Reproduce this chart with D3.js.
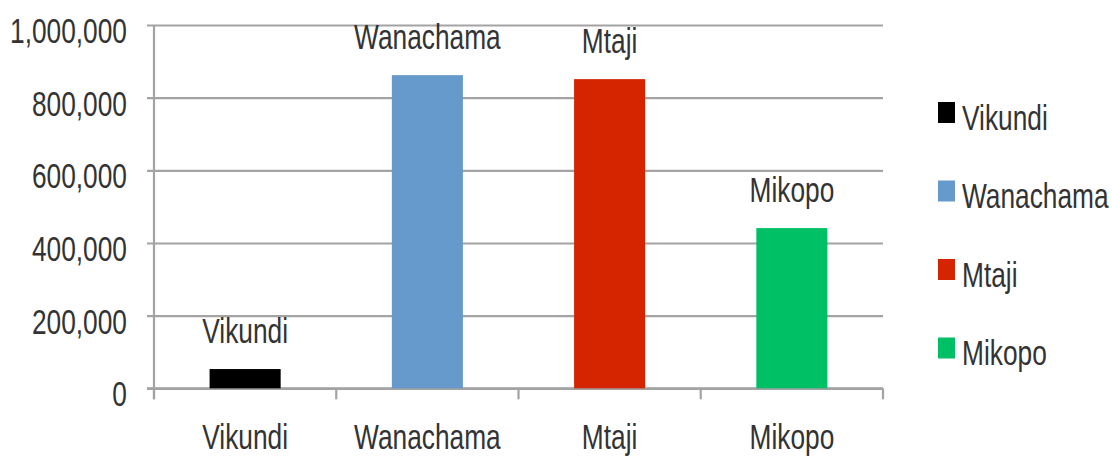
<!DOCTYPE html>
<html>
<head>
<meta charset="utf-8">
<script src="https://cdn.jsdelivr.net/npm/d3@7/dist/d3.min.js"></script>
<style>
  html, body { margin: 0; padding: 0; background: #fff; }
  svg { display: block; }
  text { font-family: "Liberation Sans", Arial, sans-serif; font-size: 26.3px; fill: #333; }
</style>
</head>
<body>
<svg id="chart" width="1112" height="457"></svg>
<script>
const categories = ["Vikundi", "Wanachama", "Mtaji", "Mikopo"];
const values = [53000, 862000, 851000, 441000];
const colors = ["#000000", "#6699cc", "#d42400", "#00c066"];
const yTicks = [0, 200000, 400000, 600000, 800000, 1000000];

(function () {
const SY = 1.33; // vertical text stretch
const plotLeft = 154, plotRight = 883, plotTop = 25, plotBottom = 388.3;
const svg = d3.select("#chart");

const x = d3.scaleBand().domain(categories).range([plotLeft, plotRight]).paddingInner(0.61).paddingOuter(0.305);
const xEdges = d3.scaleBand().domain(categories).range([plotLeft, plotRight]).padding(0);
const y = d3.scaleLinear().domain([0, 1000000]).range([plotBottom, plotTop]);
const fmt = d3.format(",");
const gridColor = "#a3a3a3";
const fontFam = '"Liberation Sans", Arial, sans-serif';

// gridlines + y labels
const gy = svg.append("g").attr("transform", `translate(${plotRight},0)`)
  .call(d3.axisLeft(y).tickValues(yTicks).tickSize(plotRight - 147).tickPadding(20).tickFormat(fmt));
gy.select(".domain").remove();
gy.selectAll(".tick line").attr("stroke", gridColor).attr("stroke-width", 2.2);
gy.selectAll(".tick text")
  .attr("x", null).attr("dy", null)
  .attr("transform", `translate(${-(plotRight - 147) - 20},17.5) scale(1,${SY})`)
  .attr("fill", "#333").attr("font-size", "26.3px").attr("font-family", fontFam);

// bottom axis labels
const gx = svg.append("g").attr("transform", `translate(0,${plotBottom})`)
  .call(d3.axisBottom(xEdges).tickSize(0));
gx.select(".domain").remove();
gx.selectAll(".tick text")
  .attr("y", null).attr("dy", null)
  .attr("transform", `translate(0,60.5) scale(1,${SY})`)
  .attr("fill", "#333").attr("font-size", "26.3px").attr("font-family", fontFam);

// x axis line and ticks at band edges
svg.append("line").attr("x1", 147).attr("x2", plotRight).attr("y1", y(0)).attr("y2", y(0))
  .attr("stroke", gridColor).attr("stroke-width", 2.2);
const edges = categories.map(c => xEdges(c)).concat([plotRight]);
svg.selectAll("line.xt").data(edges).join("line").attr("class", "xt")
  .attr("x1", d => d).attr("x2", d => d).attr("y1", y(0)).attr("y2", y(0) + 11)
  .attr("stroke", gridColor).attr("stroke-width", 2.2);
// y axis line
svg.append("line").attr("x1", plotLeft).attr("x2", plotLeft).attr("y1", y(1000000)).attr("y2", y(0) + 11)
  .attr("stroke", gridColor).attr("stroke-width", 2.2);

// bars
svg.selectAll("rect.bar").data(categories).join("rect").attr("class", "bar")
  .attr("x", d => x(d)).attr("width", x.bandwidth())
  .attr("y", (d, i) => y(values[i])).attr("height", (d, i) => y(0) - y(values[i]))
  .attr("fill", (d, i) => colors[i]);

// bar labels
svg.selectAll("text.blabel").data(categories).join("text").attr("class", "blabel")
  .attr("text-anchor", "middle")
  .attr("transform", (d, i) => `translate(${x(d) + x.bandwidth() / 2},${y(values[i]) - 26.5}) scale(1,${SY})`)
  .text(d => d);

// legend
const lg = svg.append("g");
categories.forEach((c, i) => {
  const cy = 112.5 + i * 78.5;
  lg.append("rect").attr("x", 938).attr("y", cy - 10.5).attr("width", 17).attr("height", 21).attr("fill", colors[i]);
  lg.append("text").attr("transform", `translate(962,${cy + 17}) scale(1,${SY})`).text(c);
});
})();
</script>
</body>
</html>
